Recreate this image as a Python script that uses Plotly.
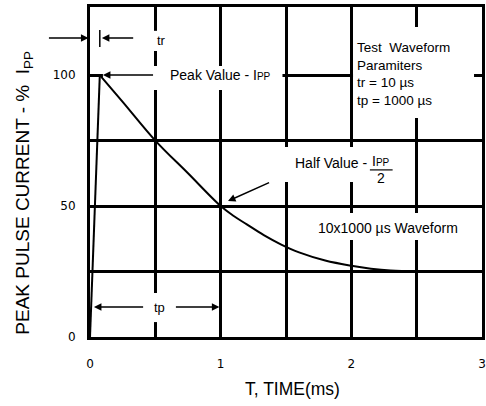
import plotly.graph_objects as go

# ---- data ----
rise_t = [0.0, 0.075]
rise_i = [0.0, 100.0]
decay_t = [0.075, 0.25, 0.5, 0.75, 1.0, 1.1, 1.2, 1.33, 1.46, 1.6, 1.8, 2.0, 2.15, 2.3, 2.5, 3.0]
decay_i = [100.0, 89.8, 75.0, 62.5, 50.0, 46.2, 43.0, 38.9, 35.4, 32.3, 29.2, 27.2, 26.1, 25.4, 25.05, 25.0]

x_ticks = [0, 0.5, 1, 1.5, 2, 2.5, 3]
x_labels = ["0", "", "1", "", "2", "", "3"]
y_ticks = [0, 25, 50, 75, 100]
y_labels = ["0", "", "50", "", "100"]

FONT = "Liberation Sans, Arial, sans-serif"
TICKFONT = "DejaVu Sans, Verdana, sans-serif"

fig = go.Figure()
fig.add_trace(go.Scatter(x=rise_t, y=rise_i, mode="lines",
                         line=dict(color="black", width=2), hoverinfo="skip"))
fig.add_trace(go.Scatter(x=decay_t, y=decay_i, mode="lines",
                         line=dict(color="black", width=2, shape="spline", smoothing=1.0),
                         hoverinfo="skip"))

# white masks that break grid lines behind the labels
masks = [
    (0.456, 109.2, 0.608, 116.9),   # tr label
    (0.099, 94.3, 1.473, 103.5),    # peak value label
    (2.013, 83.6, 2.939, 118.4),    # test waveform box
    (1.443, 59.2, 2.392, 72.5),     # half value label
    (1.686, 37.0, 2.886, 47.3),     # 10x1000 label
    (0.456, 5.7, 0.592, 16.8),      # tp label
]
for x0, y0, x1, y1 in masks:
    fig.add_shape(type="rect", x0=x0, y0=y0, x1=x1, y1=y1, xref="x", yref="y",
                  fillcolor="white", line=dict(width=0), layer="between")

# short vertical marker at the peak time (tr)
fig.add_shape(type="line", x0=rise_t[1], x1=rise_t[1], y0=110.7, y1=117.2,
              xref="x", yref="y", line=dict(color="black", width=1.5))
# fraction bar for Ipp / 2
fig.add_shape(type="line", x0=2.142, x1=2.316, y0=63.8, y1=63.8,
              xref="x", yref="y", line=dict(color="black", width=1.2))

def arrow(hx, hy, tx, ty):
    fig.add_annotation(x=hx, y=hy, ax=tx, ay=ty, xref="x", yref="y",
                       axref="x", ayref="y", text="", showarrow=True,
                       arrowhead=2, arrowsize=1, arrowwidth=1.5, arrowcolor="black")

# arrow outside the plot (left of the y axis) pointing at t = 0
fig.add_annotation(x=-0.004, y=114.2, xref="paper", yref="y", ax=-41, ay=0,
                   text="", showarrow=True, arrowhead=2, arrowsize=1,
                   arrowwidth=1.5, arrowcolor="black")
arrow(0.091, 114.2, 0.342, 114.2)
arrow(0.099, 100, 0.494, 100)
arrow(1.056, 51.9, 1.382, 59.2)
arrow(0.03, 11.45, 0.418, 11.45)
arrow(0.99, 11.45, 0.646, 11.45)

def label(x, y, text, xanchor="center", size=14, align="left"):
    fig.add_annotation(x=x, y=y, xref="x", yref="y", text=text, showarrow=False,
                       xanchor=xanchor, yanchor="middle", align=align,
                       font=dict(family=FONT, size=size, color="black"))

label(0.545, 113.4, "tr", size=13)
label(0.6, 100, "Peak Value - I<span style='font-size:10px'>PP</span>", xanchor="left")
label(2.028, 100.6, "Test  Waveform<br>Paramiters<br>tr = 10 µs<br>tp = 1000 µs",
      xanchor="left", size=13.5)
label(1.557, 66.4, "Half Value -", xanchor="left")
label(2.225, 67.2, "I<span style='font-size:10px'>PP</span>")
label(2.225, 60.7, "2")
label(1.732, 41.6, "10x1000 µs Waveform", xanchor="left")
label(0.532, 11.1, "tp", size=13)

# axis titles
fig.add_annotation(x=0.516, y=-0.158, xref="paper", yref="paper", text="T, TIME(ms)",
                   showarrow=False, xanchor="center", yanchor="middle",
                   font=dict(family=FONT, size=17.5, color="black"))
fig.add_annotation(x=-0.167, y=0.436, xref="paper", yref="paper",
                   text="PEAK PULSE CURRENT - %  I<sub>PP</sub>", textangle=-90,
                   showarrow=False, xanchor="center", yanchor="middle",
                   font=dict(family=FONT, size=19, color="black"))

fig.update_xaxes(range=[0, 3], tickvals=x_ticks, ticktext=x_labels,
                 showgrid=True, gridcolor="black", gridwidth=2.5, zeroline=False,
                 showline=True, mirror=True, linecolor="black", linewidth=3,
                 ticks="", ticklabelstandoff=14,
                 tickfont=dict(family=TICKFONT, size=12, color="black"))
fig.update_yaxes(range=[0, 126], tickvals=y_ticks, ticktext=y_labels,
                 showgrid=True, gridcolor="black", gridwidth=2.5, zeroline=False,
                 showline=True, mirror=True, linecolor="black", linewidth=3,
                 ticks="", ticklabelstandoff=9,
                 tickfont=dict(family=TICKFONT, size=12, color="black"))

fig.update_layout(width=486, height=406, showlegend=False,
                  margin=dict(l=90, r=1, t=7, b=69),
                  plot_bgcolor="white", paper_bgcolor="white")

fig.write_html("out.html", config={"displayModeBar": False},
               post_script="document.body.style.margin='0';document.body.style.padding='0';")
